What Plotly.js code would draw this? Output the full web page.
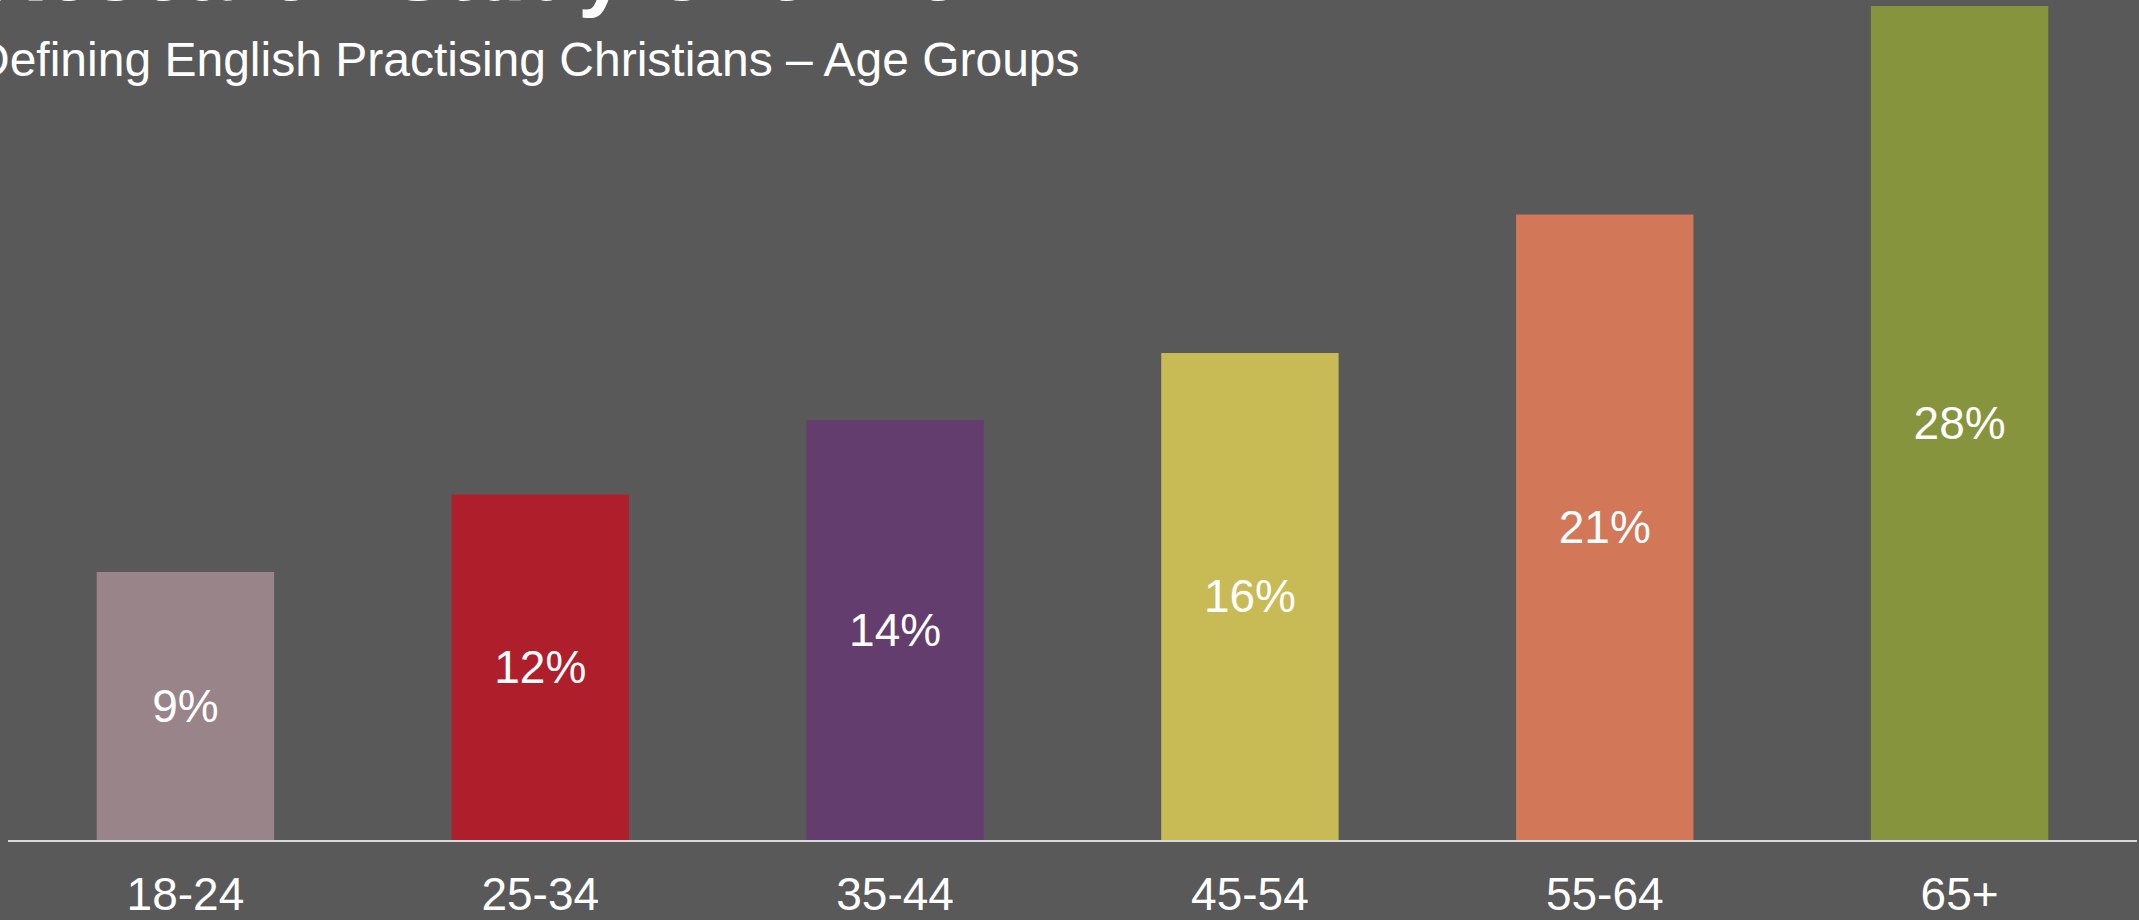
<!DOCTYPE html>
<html>
<head>
<meta charset="utf-8">
<script src="https://cdn.plot.ly/plotly-3.0.1.min.js"></script>
<style>
html,body{margin:0;padding:0;background:#595959;overflow:hidden;}
#chart{width:2139px;height:920px;}
</style>
</head>
<body>
<div id="chart"></div>
<script>
const categories = ["18-24", "25-34", "35-44", "45-54", "55-64", "65+"];
const values = [9.0, 11.6, 14.1, 16.35, 21.0, 28.0];
const barColors = ["#988489", "#AF1F2B", "#633D6E", "#C8BA55", "#D27758", "#87943E"];
const titleText = "Research Study Overview";
const subtitleText = "Defining English Practising Christians \u2013 Age Groups";

const FONT = "'Liberation Sans', Arial, sans-serif";

const trace = {
  type: "bar",
  x: categories,
  y: values,
  marker: {color: barColors, line: {width: 0}},
  texttemplate: "%{y:.0f}%",
  textposition: "inside",
  insidetextanchor: "middle",
  constraintext: "none",
  textangle: 0,
  textfont: {family: FONT, size: 46, color: "#FFFFFF"},
  hoverinfo: "skip"
};

const layout = {
  width: 2139,
  height: 920,
  paper_bgcolor: "#595959",
  plot_bgcolor: "#595959",
  margin: {l: 8, r: 2, t: 0, b: 80, pad: 0},
  bargap: 0.5,
  showlegend: false,
  xaxis: {
    type: "category",
    showgrid: false,
    zeroline: false,
    showline: true,
    linecolor: "#D9D9D9",
    linewidth: 2,
    ticks: "",
    tickfont: {family: FONT, size: 46, color: "#FFFFFF"},
    ticklabelstandoff: 13
  },
  yaxis: {
    range: [0, 28.2],
    visible: false,
    showgrid: false,
    zeroline: false,
    fixedrange: true
  },
  annotations: [
    {
      text: "<b>" + titleText + "</b>",
      xref: "paper", yref: "paper",
      x: 0, y: 1, xanchor: "left", yanchor: "bottom",
      xshift: -27, yshift: -20,
      showarrow: false,
      font: {family: FONT, size: 85, color: "#FFFFFF"}
    },
    {
      text: subtitleText,
      xref: "paper", yref: "paper",
      x: 0, y: 1, xanchor: "left", yanchor: "middle",
      xshift: -35, yshift: -59,
      showarrow: false,
      font: {family: FONT, size: 48, color: "#FFFFFF"}
    }
  ]
};

Plotly.newPlot("chart", [trace], layout, {staticPlot: true, displayModeBar: false});
</script>
</body>
</html>
